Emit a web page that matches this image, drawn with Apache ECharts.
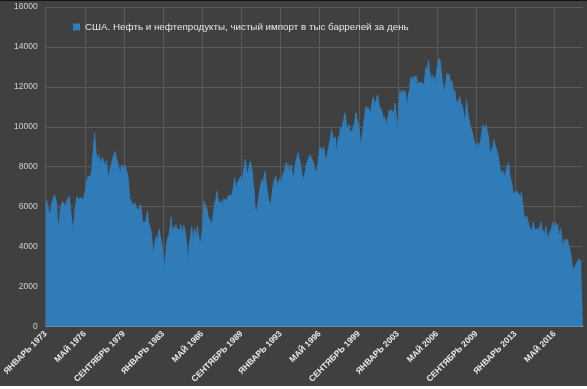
<!DOCTYPE html>
<html>
<head>
<meta charset="utf-8">
<script src="https://cdn.jsdelivr.net/npm/echarts@6/dist/echarts.min.js"></script>
<style>
html,body{margin:0;padding:0;background:#ffffff;}
#wrap{width:587px;height:386px;background:#404040;border-top:1px solid #151515;box-sizing:border-box;}
#c{width:587px;height:385px;}
</style>
</head>
<body>
<div id="wrap"><div id="c"></div></div>
<script>
const seriesName = 'США. Нефть и нефтепродукты, чистый импорт в тыс баррелей за день';
const monthNames = ['ЯНВАРЬ','ФЕВРАЛЬ','МАРТ','АПРЕЛЬ','МАЙ','ИЮНЬ','ИЮЛЬ','АВГУСТ','СЕНТЯБРЬ','ОКТЯБРЬ','НОЯБРЬ','ДЕКАБРЬ'];
const startYear = 1973;
const yTicks = [0, 2000, 4000, 6000, 8000, 10000, 12000, 14000, 16000];

const v1973 = [5900, 6300, 6050, 5800, 5600, 5750, 6100, 6300, 6450, 6600, 6700, 6200];
const v1974 = [5400, 4980, 5300, 5900, 6100, 6250, 6150, 6300, 6050, 6200, 6350, 6400];
const v1975 = [6500, 6100, 5600, 5100, 4800, 5300, 5900, 6200, 6520, 6300, 6250, 6450];
const v1976 = [6400, 6470, 6350, 6480, 6500, 6900, 7300, 7500, 7400, 7600, 7550, 7800];
const v1977 = [8400, 9100, 9700, 8900, 8500, 8300, 8600, 8400, 8200, 8100, 8450, 8300];
const v1978 = [8200, 8000, 8300, 7800, 7360, 7700, 7900, 8100, 8300, 8500, 8600, 8760];
const v1979 = [8500, 8300, 8100, 7900, 7700, 7800, 8100, 8200, 7900, 8100, 8200, 8000];
const v1980 = [7500, 6900, 6400, 6300, 6200, 6000, 6100, 6200, 6000, 5900, 6100, 5800];
const v1981 = [5900, 6100, 5700, 5200, 5150, 5100, 5200, 5300, 5770, 5200, 5100, 4900];
const v1982 = [4600, 4100, 3700, 3900, 4300, 4500, 4200, 4600, 4870, 4500, 4300, 4000];
const v1983 = [3500, 2900, 3300, 3800, 4300, 4200, 4600, 4900, 5470, 4900, 4700, 5000];
const v1984 = [4800, 5100, 4700, 4900, 5000, 4750, 5100, 4850, 4700, 5050, 4900, 4600];
const v1985 = [4100, 3230, 3700, 4200, 4500, 5000, 4600, 4300, 4900, 4700, 4400, 5020];
const v1986 = [4600, 4300, 4100, 4030, 4800, 5600, 6270, 6100, 6200, 5800, 5500, 5600];
const v1987 = [5400, 5200, 5020, 5600, 5900, 6200, 6400, 6770, 6400, 6300, 6100, 6200];
const v1988 = [6300, 6000, 6400, 6450, 6500, 6300, 6500, 6400, 6550, 6600, 6450, 6800];
const v1989 = [7000, 7460, 7100, 6900, 7200, 7300, 7400, 7510, 7200, 7400, 7700, 7600];
const v1990 = [8360, 7900, 7600, 7800, 7700, 8260, 8000, 7800, 7200, 6800, 5900, 5620];
const v1991 = [5700, 6200, 6600, 6900, 7000, 7360, 7100, 7200, 7760, 7300, 6900, 6600];
const v1992 = [6300, 6400, 6020, 6500, 6900, 7200, 7100, 7510, 7300, 7000, 7200, 7400];
const v1993 = [7100, 7300, 7600, 7510, 7800, 8000, 8210, 7900, 8100, 7700, 7900, 8100];
const v1994 = [7600, 7360, 7700, 8100, 8300, 8500, 8700, 8400, 8200, 7900, 7600, 7360];
const v1995 = [7500, 7700, 8000, 8200, 8100, 8300, 8600, 8700, 8400, 8360, 8100, 7900];
const v1996 = [7900, 7710, 8100, 8500, 9000, 8900, 9100, 8800, 9000, 8600, 8500, 8360];
const v1997 = [8700, 8900, 9200, 9400, 9850, 9600, 9300, 9400, 9500, 8500, 9100, 9500];
const v1998 = [9300, 10000, 9800, 10000, 10100, 9900, 10700, 10200, 9850, 9900, 10100, 9700];
const v1999 = [9600, 9700, 9900, 10100, 10300, 10700, 10400, 10300, 10000, 9500, 9000, 9400];
const v2000 = [9700, 10200, 10500, 11000, 10800, 11000, 10900, 11000, 10700, 10800, 11340, 11500];
const v2001 = [10900, 11200, 11400, 11600, 11300, 11000, 10900, 11100, 10700, 10300, 10500, 10400];
const v2002 = [10100, 10200, 10500, 10850, 10700, 10850, 10600, 10800, 10400, 11190, 10600, 9850];
const v2003 = [10300, 11200, 11840, 11600, 11700, 11840, 11500, 11800, 11600, 11000, 11300, 11700];
const v2004 = [11900, 12500, 12300, 12400, 12500, 12600, 12400, 12500, 12000, 12200, 12300, 12100];
const v2005 = [12200, 12300, 12250, 12100, 12850, 13000, 12700, 13340, 12900, 12600, 12300, 12590];
const v2006 = [12300, 12500, 12000, 12600, 13000, 13200, 13430, 13300, 12800, 12400, 12100, 11690];
const v2007 = [11900, 12300, 12680, 12500, 12650, 12400, 12190, 12300, 12000, 11600, 11840, 11400];
const v2008 = [11300, 11100, 11350, 11500, 11200, 11300, 11000, 10900, 10300, 10500, 11340, 10850];
const v2009 = [10500, 10200, 10000, 10100, 9700, 9400, 9350, 9100, 8850, 9000, 9200, 8900];
const v2010 = [9200, 9500, 9850, 10100, 9900, 10000, 10100, 9800, 9600, 9200, 8500, 8800];
const v2011 = [8800, 9000, 9350, 9100, 9200, 9000, 8600, 8300, 8000, 7600, 7500, 7800];
const v2012 = [7700, 7500, 7600, 7900, 7800, 8200, 7600, 7400, 7200, 6900, 6600, 6700];
const v2013 = [6500, 6800, 6700, 6900, 6600, 6400, 6700, 6300, 5900, 5400, 5520, 5250];
const v2014 = [5500, 5200, 5000, 5100, 4900, 4750, 5220, 5000, 4800, 4900, 4730, 4900];
const v2015 = [4700, 5000, 5220, 4900, 4600, 4800, 4380, 5000, 4700, 4230, 4500, 4700];
const v2016 = [4600, 4900, 5220, 4800, 5000, 5200, 4900, 5100, 4700, 4530, 4900, 4600];
const v2017 = [3880, 4100, 4380, 4200, 4300, 4380, 4100, 4030, 3800, 3400, 3100, 2740];
const v2018 = [2900, 2850, 3000, 3200, 3100, 3380, 3300, 3200, 3250, 3300];

const yearly = [v1973,v1974,v1975,v1976,v1977,v1978,v1979,v1980,v1981,v1982,v1983,v1984,v1985,v1986,v1987,v1988,v1989,v1990,v1991,v1992,v1993,v1994,v1995,v1996,v1997,v1998,v1999,v2000,v2001,v2002,v2003,v2004,v2005,v2006,v2007,v2008,v2009,v2010,v2011,v2012,v2013,v2014,v2015,v2016,v2017,v2018];
const values = [];
const categories = [];
yearly.forEach((arr, yi) => {
  arr.forEach((v, mi) => {
    values.push(v);
    categories.push(monthNames[mi] + ' ' + (startYear + yi));
  });
});

const chart = echarts.init(document.getElementById('c'), null, {renderer: 'canvas'});
chart.setOption({
  backgroundColor: '#404040',
  animation: false,
  textStyle: {fontFamily: 'Liberation Sans'},
  legend: {
    data: [seriesName],
    left: 68, top: 16,
    icon: 'rect', itemWidth: 7, itemHeight: 7, itemGap: 4,
    textStyle: {color: '#e6e6e6', fontSize: 9.8, fontFamily: 'Liberation Sans'}
  },
  grid: {left: 40, right: 4, top: 6, bottom: 57, containLabel: false},
  xAxis: {
    type: 'category',
    data: categories,
    boundaryGap: false,
    axisLine: {show: true, lineStyle: {color: '#a8998c', width: 1}},
    axisTick: {show: false},
    axisLabel: {
      interval: 39, rotate: 45, color: '#e8e8e8', fontSize: 8.5, fontWeight: 'bold',
      margin: 6, fontFamily: 'Liberation Sans'
    },
    splitLine: {show: true, interval: 39, lineStyle: {color: '#5a5a5a', width: 1}}
  },
  yAxis: {
    type: 'value',
    min: yTicks[0], max: yTicks[yTicks.length - 1], interval: 2000,
    axisLine: {show: false}, axisTick: {show: false},
    axisLabel: {color: '#d0d0d0', fontSize: 8.5, margin: 8, fontFamily: 'Liberation Sans',
      formatter: function (v) { return String(v); }},
    splitLine: {show: true, lineStyle: {color: '#5a5a5a', width: 1}}
  },
  series: [{
    name: seriesName,
    type: 'line',
    data: values,
    showSymbol: false,
    symbol: 'none',
    lineStyle: {color: '#2f7cb9', width: 1},
    itemStyle: {color: '#2f7cb9'},
    areaStyle: {color: '#2f7cb9', opacity: 1}
  }]
});
</script>
</body>
</html>
